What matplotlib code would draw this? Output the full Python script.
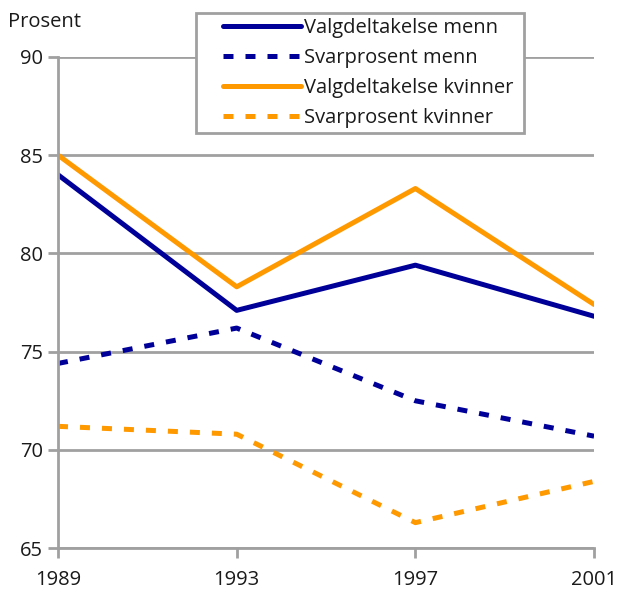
import matplotlib.pyplot as plt
from matplotlib.patches import Rectangle

years = [1989, 1993, 1997, 2001]
valg_menn = [84.0, 77.1, 79.4, 76.8]
svar_menn = [74.4, 76.2, 72.5, 70.7]
valg_kvinner = [85.0, 78.3, 83.3, 77.4]
svar_kvinner = [71.2, 70.8, 66.3, 68.4]

labels = ["Valgdeltakelse menn", "Svarprosent menn",
          "Valgdeltakelse kvinner", "Svarprosent kvinner"]

blue = "#000099"
orange = "#ff9900"
grey = "#a0a0a0"
txt = "#1a1a1a"
fs = 14.5

plt.rcParams['font.family'] = ['Open Sans', 'DejaVu Sans']

fig = plt.figure(figsize=(6.27, 5.92), dpi=100)
ax = fig.add_axes([0.0925, 0.074, 0.855, 0.83])

lw = 3.6
ax.plot(years, valg_menn, color=blue, lw=lw, label=labels[0], solid_capstyle='round')
ax.plot(years, svar_menn, color=blue, lw=lw, dashes=(2, 2.4), label=labels[1])
ax.plot(years, valg_kvinner, color=orange, lw=lw, label=labels[2], solid_capstyle='round')
ax.plot(years, svar_kvinner, color=orange, lw=lw, dashes=(2, 2.4), label=labels[3])

ax.set_xlim(1989, 2001)
ax.set_ylim(65, 90)
ax.set_xticks(years)
ax.set_yticks([65, 70, 75, 80, 85, 90])
ax.yaxis.grid(True, color=grey, lw=2)
ax.set_axisbelow(True)
for s in ['top', 'right']:
    ax.spines[s].set_visible(False)
for s in ['left', 'bottom']:
    ax.spines[s].set_color(grey)
    ax.spines[s].set_linewidth(2)
ax.tick_params(axis='both', colors=grey, width=2, length=7, labelsize=fs,
               labelcolor=txt)
ax.tick_params(axis='x', pad=9)
ax.tick_params(axis='y', pad=4)

fig.text(0.012, 0.955, "Prosent", fontsize=fs, color=txt, va='baseline')

leg = ax.legend(loc='upper left', bbox_to_anchor=(0.298, 1.09), fontsize=fs,
                frameon=False, handlelength=3.9, handletextpad=0.15,
                labelspacing=0.5, borderpad=0.25, borderaxespad=0)
for t in leg.get_texts():
    t.set_color(txt)

# frame around the legend, wider on the left like the original
fig.canvas.draw()
bb = leg.get_window_extent().transformed(fig.transFigure.inverted())
padl, padr = 22 / 627, 5 / 627
fig.patches.append(Rectangle((bb.x0 - padl, bb.y0), bb.width + padl + padr, bb.height,
                             transform=fig.transFigure, facecolor='white',
                             edgecolor=grey, lw=2, zorder=4))
leg.set_zorder(5)
fig.add_artist(leg)

fig.savefig("out.png", dpi=100)
